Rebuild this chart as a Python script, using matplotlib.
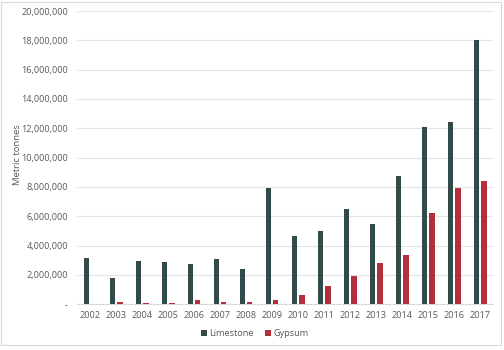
import numpy as np
import matplotlib.pyplot as plt
from matplotlib.patches import Rectangle
from matplotlib.ticker import FuncFormatter

plt.rcParams["font.family"] = ["Open Sans", "DejaVu Sans"]

YEARS = [str(y) for y in range(2002, 2018)]
LIMESTONE = [3.18e6, 1.79e6, 2.93e6, 2.86e6, 2.73e6, 3.09e6, 2.39e6, 7.93e6,
             4.64e6, 4.98e6, 6.48e6, 5.48e6, 8.73e6, 12.11e6, 12.43e6, 18.02e6]
GYPSUM = [0.05e6, 0.16e6, 0.10e6, 0.12e6, 0.27e6, 0.18e6, 0.16e6, 0.31e6,
          0.65e6, 1.27e6, 1.91e6, 2.82e6, 3.38e6, 6.25e6, 7.93e6, 8.43e6]

LIME_COLOR = "#334a4b"
GYP_COLOR = "#b22f3e"
TEXT_COLOR = "#595959"

fig = plt.figure(figsize=(5.04, 3.5), dpi=100)
ax = fig.add_axes([77 / 504, 1 - 304.3 / 350, 416 / 504, 293.3 / 350])

x = np.arange(len(YEARS))
w = 0.22
ax.bar(x - 0.14, LIMESTONE, w, color=LIME_COLOR, label="Limestone", zorder=3)
ax.bar(x + 0.14, GYPSUM, w, color=GYP_COLOR, label="Gypsum", zorder=3)

ax.set_xlim(-0.5, len(YEARS) - 0.5)
ax.set_ylim(0, 20e6)
ax.set_yticks(np.arange(0, 20e6 + 1, 2e6))
ax.yaxis.set_major_formatter(
    FuncFormatter(lambda v, _: "-" if v == 0 else f"{v:,.0f}"))
ax.set_xticks(x)
ax.set_xticklabels(YEARS)
ax.grid(axis="y", color="#e3e3e3", linewidth=0.8, zorder=0)
for s in ["top", "right", "left"]:
    ax.spines[s].set_visible(False)
ax.spines["bottom"].set_color("#d9d9d9")
ax.tick_params(length=0, labelsize=6.6, colors=TEXT_COLOR)
ax.tick_params(axis="y", pad=6.5)
ax.tick_params(axis="x", pad=5)

fig.text(18 / 504, 1 - 155 / 350, "Metric tonnes", rotation=90,
         ha="center", va="center", fontsize=6.8, color=TEXT_COLOR)

fig.legend(loc="center", bbox_to_anchor=(255 / 504, 1 - 334 / 350), ncol=2,
           frameon=False, fontsize=6.6, handlelength=0.6, handleheight=0.6,
           handletextpad=0.3, columnspacing=1.2, labelcolor=TEXT_COLOR)

# light chart-area border
fig.patches.append(Rectangle((1 / 504, 1 - 345 / 350), 500 / 504, 343 / 350,
                             transform=fig.transFigure, fill=False,
                             edgecolor="#d9d9d9", linewidth=0.8))

fig.savefig("out.png", dpi=100, facecolor="white")
